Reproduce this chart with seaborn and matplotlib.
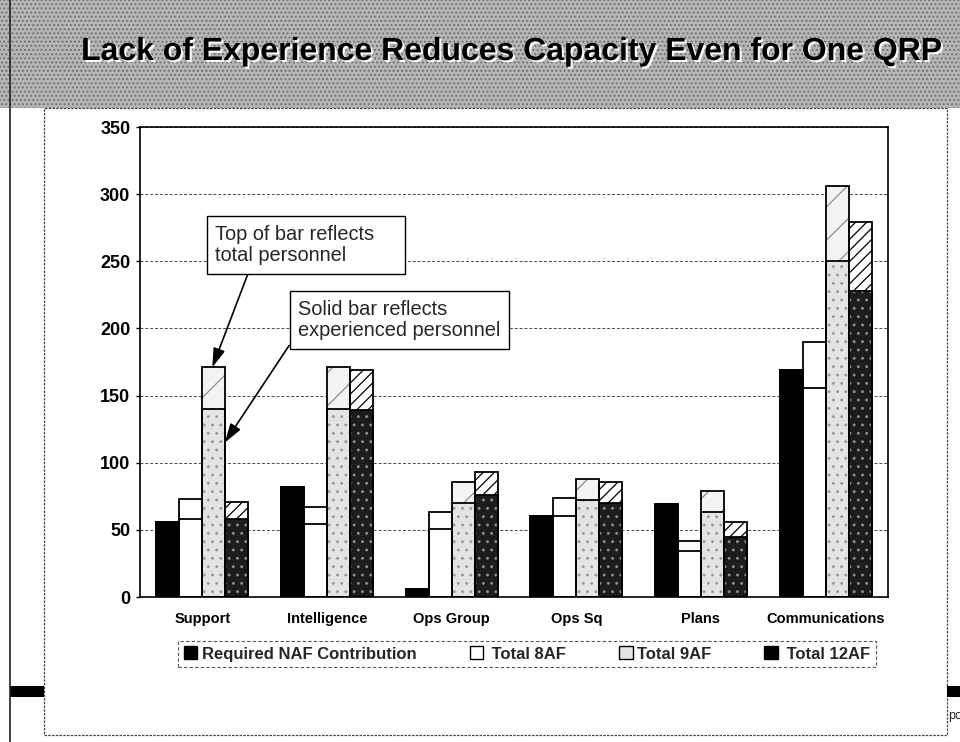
import numpy as np
import pandas as pd
import matplotlib
matplotlib.use("Agg")
import matplotlib.pyplot as plt
import seaborn as sns
from matplotlib.patches import Rectangle, Patch
from matplotlib.lines import Line2D
import matplotlib.patheffects as pe

# ---------------- data ----------------
categories = ["Support", "Intelligence", "Ops Group", "Ops Sq", "Plans", "Communications"]
series = ["Required NAF Contribution", "Total 8AF", "Total 9AF", "Total 12AF"]
legend_labels = ["Required NAF Contribution", " Total 8AF", "Total 9AF", " Total 12AF"]

required = [56, 82, 6, 60, 69, 169]
total_8af = [73, 67, 63, 74, 42, 190]
exp_8af = [58, 54, 51, 60, 34, 156]
total_9af = [171, 171, 86, 88, 79, 306]
exp_9af = [140, 140, 70, 72, 63, 250]
total_12af = [71, 169, 93, 86, 56, 279]
exp_12af = [58, 139, 76, 70, 45, 228]

yticks = [0, 50, 100, 150, 200, 250, 300, 350]
title = "Lack of Experience Reduces Capacity Even for One QRP"
note_total = "Top of bar reflects    \ntotal personnel"
note_exp = "Solid bar reflects\nexperienced personnel"


def long_df(cols):
    rows = []
    for s, vals in zip(series, cols):
        for c, v in zip(categories, vals):
            rows.append({"category": c, "series": s, "value": v})
    return pd.DataFrame(rows)


df_total = long_df([required, total_8af, total_9af, total_12af])
df_exp = long_df([required, exp_8af, exp_9af, exp_12af])

# ---------------- styling ----------------
sns.set_theme(style="white")
plt.rcParams['font.family'] = ['Liberation Sans', 'DejaVu Sans']
plt.rcParams['hatch.linewidth'] = 0.9

W, H = 960, 742
fig = plt.figure(figsize=(9.6, 7.42), dpi=100)
fig.patch.set_facecolor("white")


def fx(x):
    return x / W


def fy(y):
    return 1 - y / H


# header band (grey, dithered look)
fig.patches.append(Rectangle((0, fy(108)), 1, 108 / H, transform=fig.transFigure,
                             facecolor="#b6b6b6", edgecolor="#6f6f6f", hatch="....",
                             lw=0, zorder=-3))
# chart frame
fig.patches.append(Rectangle((fx(44), fy(735)), (947 - 44) / W, (735 - 108) / H,
                             transform=fig.transFigure, facecolor="white",
                             edgecolor="#444444", lw=0.9, linestyle=(0, (2, 1)), zorder=-2))
# slide decorations
fig.add_artist(Line2D([fx(10), fx(10)], [0, 1], transform=fig.transFigure,
                      color="#222222", lw=1.2))
fig.patches.append(Rectangle((fx(10), fy(697)), 34 / W, 11 / H, transform=fig.transFigure,
                             facecolor="black", lw=0, zorder=-1))
fig.patches.append(Rectangle((fx(947), fy(697)), 13 / W, 11 / H, transform=fig.transFigure,
                             facecolor="black", lw=0, zorder=-1))
fig.text(fx(948), fy(716), "po", fontsize=9, ha="left", va="center", color="#222222")

# title
fig.text(fx(512), fy(52), title, ha="center", va="center", fontsize=23,
         fontweight="bold", color="black",
         path_effects=[pe.withSimplePatchShadow(offset=(1.5, -1.5),
                                                shadow_rgbFace="white", alpha=0.95)])

ax = fig.add_axes([fx(140), fy(597), 748 / W, 470 / H])
ax.set_facecolor("white")

top_style = {
    "Required NAF Contribution": ("black", None, "black"),
    "Total 8AF": ("white", None, "white"),
    "Total 9AF": ("#f3f3f3", "/", "#8f8f8f"),
    "Total 12AF": ("white", "///", "black"),
}
exp_style = {
    "Required NAF Contribution": ("black", None, "black"),
    "Total 8AF": ("white", None, "white"),
    "Total 9AF": ("#e4e4e4", "..", "#9a9a9a"),
    "Total 12AF": ("#1c1c1c", "..", "#8c8c8c"),
}
black_pal = {s: "black" for s in series}


def fill_layer(df, styles, z):
    n0 = len(ax.containers)
    sns.barplot(data=df, x="category", y="value", hue="series", order=categories,
                hue_order=series, width=0.74, errorbar=None, legend=False,
                palette=black_pal, ax=ax, zorder=z)
    for s, cont in zip(series, ax.containers[n0:]):
        face, hatch, hc = styles[s]
        for p in cont.patches:
            p.set_facecolor(face)
            p.set_edgecolor(hc)
            p.set_linewidth(0)
            p.set_hatch(hatch)


def outline_layer(df, z):
    sns.barplot(data=df, x="category", y="value", hue="series", order=categories,
                hue_order=series, width=0.74, errorbar=None, legend=False,
                palette=black_pal, fill=False, linewidth=1.3, ax=ax, zorder=z)


fill_layer(df_total, top_style, 2)
fill_layer(df_exp, exp_style, 3)
outline_layer(df_total, 4)
outline_layer(df_exp, 4)

ax.set_xlim(-0.5, len(categories) - 0.5)
ax.set_ylim(0, 350)
ax.set_yticks(yticks)
ax.set_xlabel("")
ax.set_ylabel("")
ax.set_axisbelow(True)
ax.yaxis.grid(True, color="#4a4a4a", linestyle=(0, (3, 2)), lw=0.7)
ax.xaxis.grid(False)
for sp in ax.spines.values():
    sp.set_visible(True)
    sp.set_color("black")
    sp.set_linewidth(1.2)
ax.tick_params(axis="y", left=True, length=3, width=1, color="black", pad=4,
               labelsize=13, labelcolor="black")
ax.tick_params(axis="x", bottom=False, length=0, pad=11, labelsize=10.5, labelcolor="black")
for lab in ax.get_yticklabels():
    lab.set_fontweight("bold")
for lab in ax.get_xticklabels():
    lab.set_fontweight("bold")

# annotations
x9 = 0.08   # position of the 9AF bar within the Support group (category units)
ax.annotate(note_total, xy=(x9, total_9af[0]), xycoords="data",
            xytext=(fx(215), fy(245)), textcoords="figure fraction",
            ha="left", va="center", fontsize=14.4, linespacing=1.15,
            bbox=dict(boxstyle="square,pad=0.42", fc="white", ec="black", lw=1),
            arrowprops=dict(arrowstyle="-|>,head_length=0.8,head_width=0.25",
                            color="black", lw=1.2, shrinkA=0, shrinkB=0, relpos=(0.2, 0)),
            zorder=6)
ax.annotate(note_exp, xy=(0.18, 115), xycoords="data",
            xytext=(fx(298), fy(320)), textcoords="figure fraction",
            ha="left", va="center", fontsize=14.4, linespacing=1.15,
            bbox=dict(boxstyle="square,pad=0.42", fc="white", ec="black", lw=1),
            arrowprops=dict(arrowstyle="-|>,head_length=0.8,head_width=0.25",
                            color="black", lw=1.2, shrinkA=0, shrinkB=0, relpos=(0, 0.2)),
            zorder=6)

# legend
handles = [
    Patch(facecolor="black", edgecolor="black"),
    Patch(facecolor="white", edgecolor="black"),
    Patch(facecolor="#e4e4e4", edgecolor="black"),
    Patch(facecolor="black", edgecolor="black"),
]
leg = fig.legend(handles, legend_labels, loc="center",
                 bbox_to_anchor=(fx(527), fy(654)), bbox_transform=fig.transFigure,
                 ncol=4, frameon=True, fancybox=False, framealpha=1,
                 prop={"weight": "bold", "size": 12}, handlelength=0.8, handleheight=0.8,
                 handletextpad=0.25, columnspacing=3.2, borderpad=0.35)
leg.get_frame().set_edgecolor("#555555")
leg.get_frame().set_linewidth(0.8)
leg.get_frame().set_linestyle((0, (3, 2)))

fig.savefig("out.png", dpi=100, facecolor="white")
